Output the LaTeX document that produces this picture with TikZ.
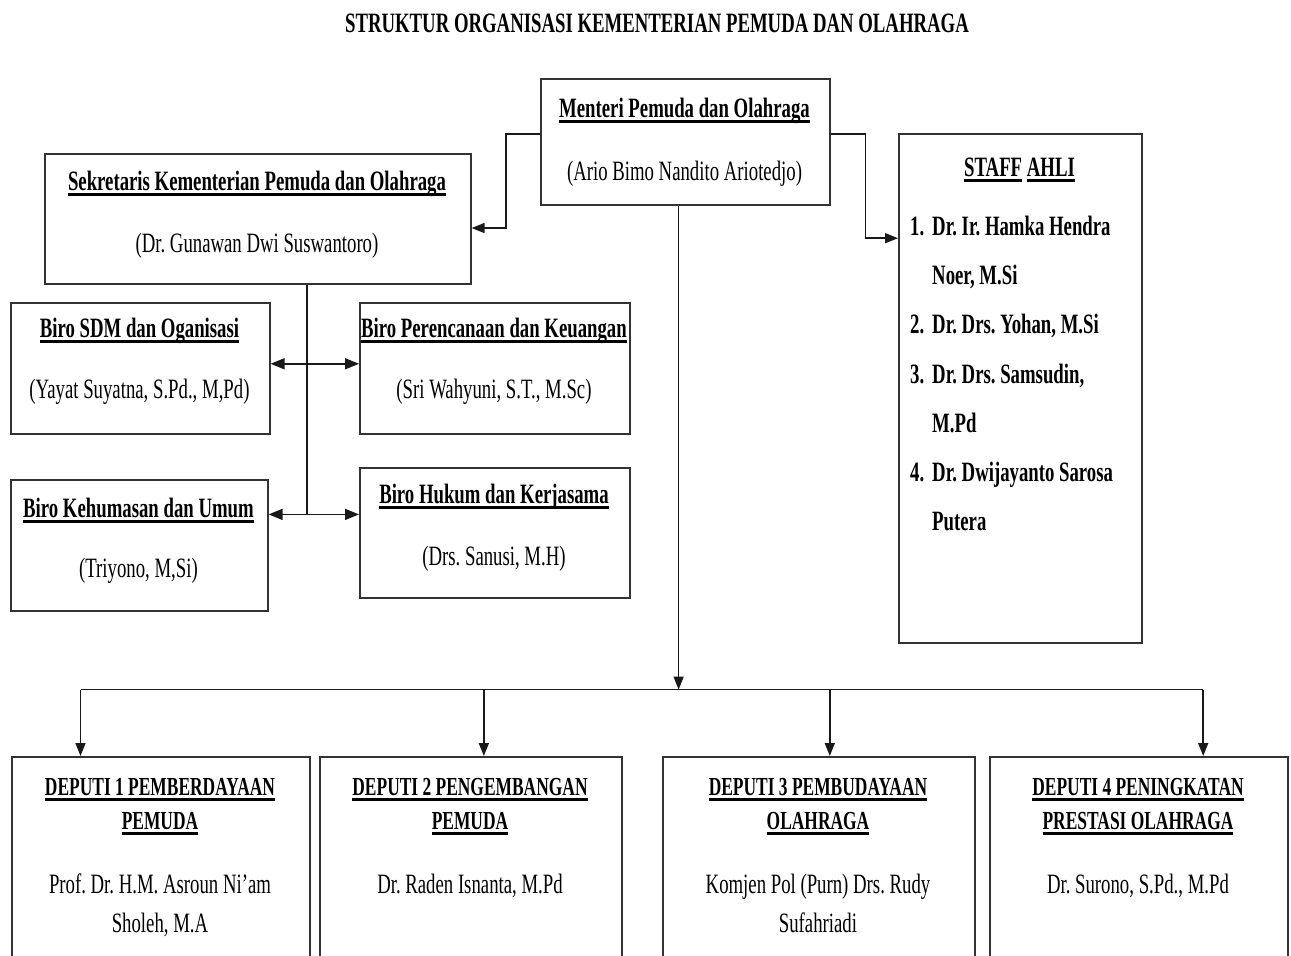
\documentclass[tikz,border=0pt]{standalone}
\usepackage{fontspec}
\setmainfont{Liberation Serif}[FakeStretch=0.67]
\usetikzlibrary{arrows.meta,calc}
\frenchspacing

\newcommand{\undl}[1]{\setbox0\hbox{#1}\rlap{\vrule height -3pt depth 6pt width \wd0}\box0\relax}

\tikzset{
  txt/.style={inner sep=0pt, anchor=base, font=\fontsize{28}{32}\selectfont},
  hd/.style={txt, font=\fontsize{28}{32}\selectfont\bfseries},
  dh/.style={txt, font=\fontsize{26}{30}\selectfont\bfseries},
  unit/.style={draw=black!80, line width=1.6pt, anchor=north west, inner sep=0pt},
  link/.style={draw=black!90, line width=1.6pt},
  tip/.style={-{Triangle[length=13pt,width=10pt]}},
  both/.style={{Triangle[length=14pt,width=11pt]}-{Triangle[length=14pt,width=11pt]}},
}

\begin{document}
\begin{tikzpicture}[x=1pt,y=1pt,yscale=-1]
\useasboundingbox (0,0) rectangle (1291,956);
\clip (0,0) rectangle (1291,956);

% Title
\node (judul) [hd, font=\fontsize{28}{30}\selectfont\bfseries] at (657,32) {STRUKTUR ORGANISASI KEMENTERIAN PEMUDA DAN OLAHRAGA};

% Boxes
\node (menteri) [unit, minimum width=289pt, minimum height=126pt] at (540,78) {};
\node (sekretaris) [unit, minimum width=426pt, minimum height=130pt] at (44,153) {};
\node (sdm) [unit, minimum width=259pt, minimum height=131pt] at (10,302) {};
\node (renkeu) [unit, minimum width=270pt, minimum height=131pt] at (359,302) {};
\node (humas) [unit, minimum width=257pt, minimum height=131pt] at (10,479) {};
\node (hukum) [unit, minimum width=270pt, minimum height=130pt] at (359,467) {};
\node (staff) [unit, minimum width=243pt, minimum height=509pt] at (898,133) {};
\node (dep1) [unit, minimum width=298pt, minimum height=210pt] at (11,756) {};
\node (dep2) [unit, minimum width=302pt, minimum height=210pt] at (319,756) {};
\node (dep3) [unit, minimum width=312pt, minimum height=210pt] at (662,756) {};
\node (dep4) [unit, minimum width=298pt, minimum height=210pt] at (989,756) {};

% Menteri to Sekretaris and Staff Ahli
\draw [link,tip] ($(menteri.north west)!0.44!(menteri.south west)$) -- ++(-34,0) |- ($(sekretaris.north east)!0.57!(sekretaris.south east)$);
\draw [link,tip] ($(menteri.north east)!0.44!(menteri.south east)$) -- ++(35,0) |- ($(staff.north west)!0.206!(staff.south west)$);

% Menteri to Deputi
\coordinate (mbot) at ($(menteri.south west)!0.477!(menteri.south east)$);
\coordinate (bus) at ($(mbot)+(0,484)$);
\draw [link,tip] (mbot) -- (bus);
\foreach \i/\f in {1/0.232,2/0.543,3/0.535,4/0.715}
  \coordinate (a\i) at ($(dep\i.north west)!\f!(dep\i.north east)$);
\draw [link] (bus -| a1) -- (bus -| a4);
\foreach \i in {1,...,4}
  \draw [link,tip] (bus -| a\i) -- (a\i);

% Sekretaris to Biro
\coordinate (sbot) at ($(sekretaris.south west)!0.615!(sekretaris.south east)$);
\coordinate (sA) at ($(sdm.north east)!0.466!(sdm.south east)$);
\coordinate (hA) at ($(humas.north east)!0.267!(humas.south east)$);
\draw [link] (sbot) -- (sbot |- hA);
\draw [link,both] (sA) -- (sA -| renkeu.west);
\draw [link,both] (hA) -- (hA -| hukum.west);

% Text Node
\node (menteriH) [hd] at (684.5,117) {\undl{Menteri Pemuda dan Olahraga}};
\node (menteriN) [txt] at (684.5,180) {(Ario Bimo Nandito Ariotedjo)};
% Text Node
\node (sekretarisH) [hd] at (257,190) {\undl{Sekretaris Kementerian Pemuda dan Olahraga}};
\node (sekretarisN) [txt] at (257,252) {(Dr. Gunawan Dwi Suswantoro)};
% Text Node
\node (sdmH) [hd] at (139.5,337) {\undl{Biro SDM dan Oganisasi}};
\node (sdmN) [txt] at (139.5,398) {(Yayat Suyatna, S.Pd., M,Pd)};
% Text Node
\node (renkeuH) [hd] at (494,337) {\undl{Biro Perencanaan dan Keuangan}};
\node (renkeuN) [txt] at (494,398) {(Sri Wahyuni, S.T., M.Sc)};
% Text Node
\node (humasH) [hd] at (138.5,517) {\undl{Biro Kehumasan dan Umum}};
\node (humasN) [txt] at (138.5,577) {(Triyono, M,Si)};
% Text Node
\node (hukumH) [hd] at (494,503) {\undl{Biro Hukum dan Kerjasama}};
\node (hukumN) [txt] at (494,565) {(Drs. Sanusi, M.H)};

% Staff Ahli
\node (staffH) [hd] at (1019.5,176) {\undl{STAFF} \undl{AHLI}};
\node (no1) [hd, anchor=base west] at (910,235) {1.};
\node (ahli1a) [hd, anchor=base west] at (932,235) {Dr. Ir. Hamka Hendra};
\node (ahli1b) [hd, anchor=base west] at (932,284) {Noer, M.Si};
\node (no2) [hd, anchor=base west] at (910,333) {2.};
\node (ahli2) [hd, anchor=base west] at (932,333) {Dr. Drs. Yohan, M.Si};
\node (no3) [hd, anchor=base west] at (910,383) {3.};
\node (ahli3a) [hd, anchor=base west] at (932,383) {Dr. Drs. Samsudin,};
\node (ahli3b) [hd, anchor=base west] at (932,432) {M.Pd};
\node (no4) [hd, anchor=base west] at (910,481) {4.};
\node (ahli4a) [hd, anchor=base west] at (932,481) {Dr. Dwijayanto Sarosa};
\node (ahli4b) [hd, anchor=base west] at (932,530) {Putera};

% Deputi
\node (dep1H1) [dh] at (160,795) {\undl{DEPUTI 1 PEMBERDAYAAN}};
\node (dep1H2) [dh] at (160,829) {\undl{PEMUDA}};
\node (dep1N1) [txt] at (160,893) {Prof. Dr. H.M. Asroun Ni’am};
\node (dep1N2) [txt] at (160,932) {Sholeh, M.A};
% Text Node
\node (dep2H1) [dh] at (470,795) {\undl{DEPUTI 2 PENGEMBANGAN}};
\node (dep2H2) [dh] at (470,829) {\undl{PEMUDA}};
\node (dep2N1) [txt] at (470,893) {Dr. Raden Isnanta, M.Pd};
% Text Node
\node (dep3H1) [dh] at (818,795) {\undl{DEPUTI 3 PEMBUDAYAAN}};
\node (dep3H2) [dh] at (818,829) {\undl{OLAHRAGA}};
\node (dep3N1) [txt] at (818,893) {Komjen Pol (Purn) Drs. Rudy};
\node (dep3N2) [txt] at (818,932) {Sufahriadi};
% Text Node
\node (dep4H1) [dh] at (1138,795) {\undl{DEPUTI 4 PENINGKATAN}};
\node (dep4H2) [dh] at (1138,829) {\undl{PRESTASI OLAHRAGA}};
\node (dep4N1) [txt] at (1138,893) {Dr. Surono, S.Pd., M.Pd};

\end{tikzpicture}
\end{document}
